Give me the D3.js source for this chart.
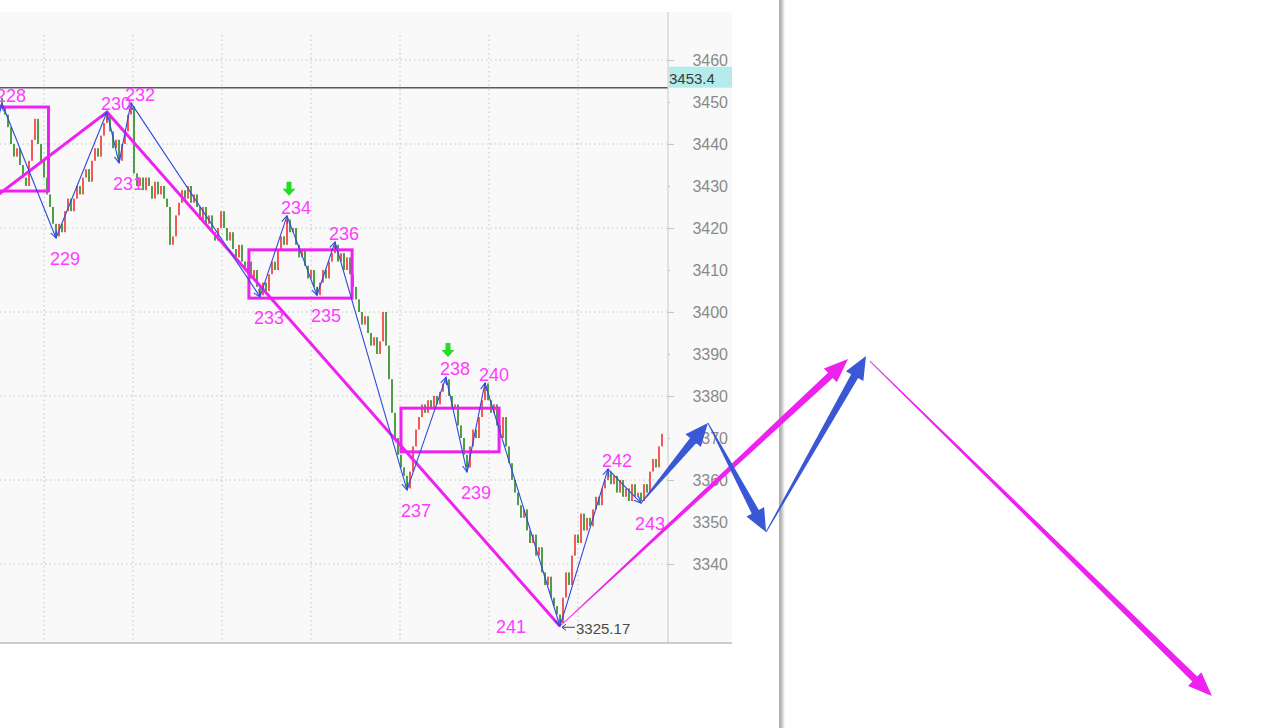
<!DOCTYPE html>
<html lang="zh">
<head>
<meta charset="UTF-8">
<title>K线 波段标注</title>
<script src="https://cdn.jsdelivr.net/npm/d3@7"></script>
<style>
  body { margin: 0; background: #fff; }
  svg { display: block; font-family: "Liberation Sans", Arial, sans-serif; }
  .axis text { fill: #8a8a8a; font-size: 16px; font-family: "Liberation Sans", Arial, sans-serif; }
  .axis line { stroke: #c4c4c4; }
  .grid line { stroke: #c2c2c2; stroke-dasharray: 1.5 3; }
  .wave { fill: #ff3cff; font-size: 18px; }
</style>
</head>
<body>
<div id="chart"></div>
<script>
  // 收盘价, 每根K线一个值 (开盘 = 前一根收盘)
  const firstOpen = 3451;
  const closes = [
    3449, 3447, 3444, 3440, 3437, 3439, 3435, 3432, 3430, 3436,
    3441, 3446, 3440, 3436, 3432, 3428, 3425, 3421, 3418,
    3421, 3419, 3424, 3427, 3424, 3427, 3430, 3428, 3432, 3434, 3431,
    3436, 3439, 3437, 3442, 3445, 3447, 3443, 3439, 3441, 3436,
    3440, 3443, 3447, 3449, 3433, 3430, 3432, 3429, 3432, 3430,
    3427, 3431, 3428, 3430, 3427, 3425, 3416, 3418, 3423, 3426,
    3429, 3427, 3430, 3426, 3428, 3425, 3422, 3425, 3421, 3423,
    3419, 3417, 3420, 3424, 3420, 3417, 3419, 3415, 3413, 3416,
    3412, 3410, 3412, 3408, 3410, 3406, 3404, 3407, 3405, 3409,
    3412, 3410, 3415, 3418, 3416, 3422, 3419, 3420, 3416, 3413,
    3415, 3411, 3408, 3410, 3406, 3404, 3407, 3410, 3408, 3412,
    3414, 3416, 3412, 3414, 3410, 3413, 3409, 3406, 3403, 3400,
    3397, 3399, 3395, 3392, 3394, 3390, 3393, 3400, 3392, 3384,
    3376, 3370, 3366, 3363, 3361, 3358, 3362, 3368, 3372, 3375,
    3378, 3376, 3379, 3377, 3380, 3378, 3381, 3383, 3384, 3380,
    3377, 3378, 3373, 3370, 3366, 3363, 3368, 3372, 3370, 3375,
    3379, 3383, 3379, 3376, 3378, 3373, 3370, 3375, 3368, 3364,
    3360, 3357, 3354, 3351, 3353, 3348, 3345, 3347, 3342, 3344,
    3338, 3335, 3337, 3332, 3330, 3328, 3326, 3332, 3338, 3335,
    3342, 3347, 3345, 3352, 3348, 3351, 3349, 3353, 3356, 3354,
    3358, 3360, 3362, 3359, 3361, 3357, 3360, 3356, 3358, 3355,
    3359, 3356, 3357, 3355, 3359, 3357, 3362, 3365, 3363, 3368, 3371
  ];

  // 小级别波段 (蓝线) 转折点
  const pivotIds    = [228, 229, 230, 231, 232, 233, 234, 235, 236, 237, 238, 239, 240, 241, 242, 243];
  const pivotBars   = [0, 18, 35, 39, 43, 86, 95, 105, 111, 135, 148, 155, 161, 186, 202, 213];
  const pivotPrices = [3449.6, 3417.6, 3447.6, 3435.5, 3449.8, 3403.6, 3422.9, 3404, 3416.7,
                       3357.6, 3384.5, 3361.9, 3383.1, 3325.17, 3362.6, 3354.5];
  const leadIn = [-5, 3436];

  // 大级别波段 (紫线)
  const bigBars   = [-3, 35, 186];
  const bigPrices = [3427, 3447.6, 3325.17];

  // 中枢框 [左, 右, 上, 下]
  const boxes = [
    [-6, 15.5, 3448.8, 3428.8],
    [82.3, 116.7, 3414.8, 3403.3],
    [133, 165.7, 3377.1, 3366.7]
  ];

  // 预测箭头 [起点bar, 起点价, 终点bar, 终点价]
  const blueForecast = [
    [213, 3354.5, 235.3, 3373.6],
    [235.3, 3373.6, 254.7, 3347.6],
    [254.7, 3347.6, 288, 3389.5]
  ];
  const bigForecast = [
    [186, 3325.17, 282, 3388.8],
    [289.3, 3388.3, 403.3, 3308.6]
  ];

  const signalIds = [234, 238];
  const yTicks = [3340, 3350, 3360, 3370, 3380, 3390, 3400, 3410, 3420, 3430, 3440, 3450, 3460];
  const gridPrices = [3340, 3360, 3380, 3400, 3420, 3440, 3460];
  const gridBars = [14, 43.67, 73.33, 103, 132.67, 162.33, 192];
  const lastPrice = 3453.4;
  const lowText = "3325.17";

  const W = 1279, H = 728;
  const plotRight = 668, panelRight = 732, panelTop = 12, panelBottom = 643;
  const magenta = "#ee22ee", blue = "#2f49e0", blueFill = "#3a58d6";

  const svg = d3.select("#chart").append("svg").attr("width", W).attr("height", H);

  const x = d3.scaleLinear().domain([0, 220]).range([2, 662]);
  const y = d3.scaleLinear().domain([3340, 3460]).range([564, 60]);

  // 面板背景
  svg.append("rect")
    .attr("x", 0).attr("y", panelTop)
    .attr("width", panelRight).attr("height", panelBottom - panelTop)
    .attr("fill", "#f9f9f9");

  // 网格
  const grid = svg.append("g").attr("class", "grid");
  grid.selectAll("line.h").data(gridPrices).join("line").attr("class", "h")
    .attr("x1", 0).attr("x2", plotRight)
    .attr("y1", d => y(d)).attr("y2", d => y(d));
  grid.selectAll("line.v").data(gridBars).join("line").attr("class", "v")
    .attr("x1", d => x(d)).attr("x2", d => x(d))
    .attr("y1", 35).attr("y2", panelBottom);

  // 最新价线
  svg.append("line")
    .attr("x1", 0).attr("x2", plotRight)
    .attr("y1", y(lastPrice)).attr("y2", y(lastPrice))
    .attr("stroke", "#5a5a5a").attr("stroke-width", 1.5);

  // 右侧价格轴
  svg.append("line")
    .attr("x1", plotRight).attr("x2", plotRight)
    .attr("y1", panelTop).attr("y2", panelBottom)
    .attr("stroke", "#c8c8c8");
  svg.append("line")
    .attr("x1", 0).attr("x2", panelRight)
    .attr("y1", panelBottom).attr("y2", panelBottom)
    .attr("stroke", "#bdbdbd").attr("stroke-width", 1.5);

  const ag = svg.append("g").attr("class", "axis")
    .attr("transform", `translate(${plotRight},0)`)
    .call(d3.axisRight(y).tickValues(yTicks).tickSize(6).tickFormat(d3.format("d")));
  ag.select(".domain").remove();
  ag.selectAll(".tick line").attr("x2", d => (d % 20 === 0 ? 6 : 2));
  ag.selectAll(".tick text").attr("x", 60).attr("text-anchor", "end");

  // 最新价标签
  svg.append("rect")
    .attr("x", plotRight + 1).attr("y", y(lastPrice) - 21)
    .attr("width", panelRight - plotRight - 1).attr("height", 21)
    .attr("fill", "#b4ecec");
  svg.append("text")
    .attr("x", plotRight + 1).attr("y", y(lastPrice) - 4)
    .attr("font-size", 15).attr("fill", "#3a3a3a")
    .text(lastPrice.toFixed(1));

  // K线
  const bars = closes.map((c, i) => ({ i, o: i ? closes[i - 1] : firstOpen, c }));
  svg.append("g").selectAll("rect").data(bars).join("rect")
    .attr("x", d => x(d.i) - 1).attr("width", 2)
    .attr("y", d => y(Math.max(d.o, d.c)))
    .attr("height", d => Math.max(1, Math.abs(y(d.o) - y(d.c))))
    .attr("fill", d => (d.c >= d.o ? "#f25a55" : "#4f9f46"));

  // 中枢框
  svg.append("g").selectAll("rect").data(boxes).join("rect")
    .attr("x", d => x(d[0])).attr("y", d => y(d[2]))
    .attr("width", d => x(d[1]) - x(d[0]))
    .attr("height", d => y(d[3]) - y(d[2]))
    .attr("fill", "none").attr("stroke", magenta).attr("stroke-width", 3);

  // 大级别线
  svg.append("path")
    .datum(bigBars.map((b, k) => [b, bigPrices[k]]))
    .attr("d", d3.line().x(d => x(d[0])).y(d => y(d[1])))
    .attr("fill", "none").attr("stroke", magenta).attr("stroke-width", 3);

  // 小级别折线 + 箭头
  svg.append("defs").append("marker")
    .attr("id", "vhead").attr("viewBox", "0 0 10 10")
    .attr("refX", 9).attr("refY", 5)
    .attr("markerWidth", 8).attr("markerHeight", 8)
    .attr("markerUnits", "userSpaceOnUse").attr("orient", "auto")
    .append("path").attr("d", "M0,1 L9,5 L0,9")
    .attr("fill", "none").attr("stroke", blue).attr("stroke-width", 1.3);

  const zz = [leadIn].concat(pivotBars.map((b, k) => [b, pivotPrices[k]]));
  const segs = d3.pairs(zz);
  svg.append("g").selectAll("line").data(segs).join("line")
    .attr("x1", d => x(d[0][0])).attr("y1", d => y(d[0][1]))
    .attr("x2", d => x(d[1][0])).attr("y2", d => y(d[1][1]))
    .attr("stroke", blue).attr("stroke-width", 1.1)
    .attr("marker-end", "url(#vhead)");

  // 波段编号
  const pivots = pivotIds.map((id, k) => ({ id, b: pivotBars[k], p: pivotPrices[k], high: id % 2 === 0 }));
  const lastLow = 241;
  svg.append("g").selectAll("text").data(pivots).join("text")
    .attr("class", "wave")
    .attr("x", d => (d.id === lastLow ? x(d.b) - 34 : x(d.b) - 6))
    .attr("y", d => (d.id === lastLow ? y(d.p) + 7 : d.high ? y(d.p) - 2 : y(d.p) + 27))
    .attr("text-anchor", d => (d.id === lastLow ? "end" : "start"))
    .text(d => d.id);

  // 最低价标注
  const lowP = pivots.find(d => d.id === lastLow);
  svg.append("path")
    .attr("d", `M${x(lowP.b) + 6},${y(lowP.p) - 2} L${x(lowP.b) + 2},${y(lowP.p) + 1} L${x(lowP.b) + 6},${y(lowP.p) + 4} M${x(lowP.b) + 2},${y(lowP.p) + 1} L${x(lowP.b) + 15},${y(lowP.p) + 1}`)
    .attr("fill", "none").attr("stroke", "#444").attr("stroke-width", 1);
  svg.append("text")
    .attr("x", x(lowP.b) + 16).attr("y", y(lowP.p) + 8)
    .attr("font-size", 15).attr("fill", "#4a4a4a")
    .text(lowText);

  // 信号绿箭头
  svg.append("g").selectAll("path")
    .data(pivots.filter(d => signalIds.includes(d.id)))
    .join("path")
    .attr("d", d => {
      const cx = x(d.b) + 2, t = y(d.p) - 20;
      return `M${cx - 2.5},${t - 14} L${cx + 2.5},${t - 14} L${cx + 2.5},${t - 7} L${cx + 6.5},${t - 7} L${cx},${t} L${cx - 6.5},${t - 7} L${cx - 2.5},${t - 7} Z`;
    })
    .attr("fill", "#22dd22");

  // 窗口边缘
  const grad = svg.select("defs").append("linearGradient").attr("id", "edge");
  grad.append("stop").attr("offset", "0%").attr("stop-color", "#a8a8a8");
  grad.append("stop").attr("offset", "40%").attr("stop-color", "#bdbdbd");
  grad.append("stop").attr("offset", "100%").attr("stop-color", "#ffffff");
  svg.append("rect").attr("x", 779).attr("y", 0).attr("width", 6).attr("height", H).attr("fill", "url(#edge)");

  // 渐粗箭头
  function taper(x1, y1, x2, y2, w0, w1, hw, hl) {
    const dx = x2 - x1, dy = y2 - y1, len = Math.hypot(dx, dy);
    const ux = dx / len, uy = dy / len, nx = -uy, ny = ux;
    const bx = x2 - ux * hl, by = y2 - uy * hl;
    const pts = [
      [x1 + nx * w0 / 2, y1 + ny * w0 / 2],
      [bx + nx * w1 / 2, by + ny * w1 / 2],
      [bx + nx * hw / 2, by + ny * hw / 2],
      [x2, y2],
      [bx - nx * hw / 2, by - ny * hw / 2],
      [bx - nx * w1 / 2, by - ny * w1 / 2],
      [x1 - nx * w0 / 2, y1 - ny * w0 / 2]
    ];
    return "M" + pts.map(p => p.join(",")).join("L") + "Z";
  }

  svg.append("g").selectAll("path").data(bigForecast).join("path")
    .attr("d", d => taper(x(d[0]), y(d[1]), x(d[2]), y(d[3]), 0.8, 7, 19, 24))
    .attr("fill", magenta);

  svg.append("g").selectAll("path").data(blueForecast).join("path")
    .attr("d", d => taper(x(d[0]), y(d[1]), x(d[2]), y(d[3]), 1, 8, 20, 23))
    .attr("fill", blueFill);
</script>
</body>
</html>
